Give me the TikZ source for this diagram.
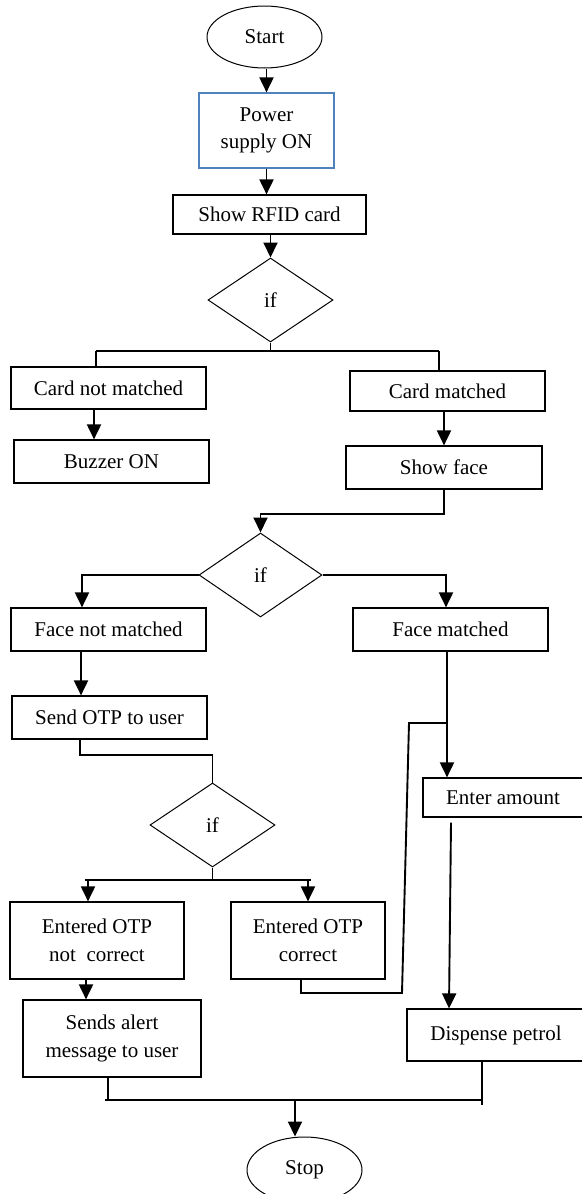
\documentclass[tikz,border=0pt]{standalone}
\usepackage{fontspec}
\setmainfont{Liberation Serif}
\usepackage{tikz}
\usetikzlibrary{shapes.geometric, arrows.meta}
\definecolor{powerblue}{RGB}{79,129,189}
\tikzstyle{startstop} = [ellipse, minimum width=115pt, minimum height=62pt, inner sep=0pt, text centered, draw=black, line width=1pt]
\tikzstyle{process} = [rectangle, minimum height=42pt, inner sep=0pt, align=center, draw=black, line width=1.2pt]
\tikzstyle{decision} = [diamond, minimum width=125pt, minimum height=84pt, inner sep=0pt, text centered, draw=black, line width=1pt]
\tikzstyle{arrow} = [line width=1.9pt, -{Triangle[length=15pt,width=14pt]}]
\tikzstyle{connector} = [line width=1.9pt]

\begin{document}
\begin{tikzpicture}[x=1pt, y=-1pt, font=\fontsize{21}{27.5}\selectfont]
\useasboundingbox (0,0) rectangle (581,1194);

% Diagram nodes
\node (start) [startstop] at (264.5,37) {Start};
\node (power) [process, draw=powerblue, minimum width=135pt, minimum height=75pt] at (266.5,130.5) {Power\\supply ON};
\node (rfid) [process, minimum width=193pt, minimum height=39pt] at (269.5,214.5) {Show RFID card};
\node (if1) [decision] at (270.5,300) {if};
\node (cardno) [process, minimum width=195pt] at (108.5,388) {Card not matched};
\node (cardyes) [process, minimum width=195pt, minimum height=40pt] at (447.5,391) {Card matched};
\node (buzzer) [process, minimum width=195pt, minimum height=43pt] at (111.5,461.5) {Buzzer ON};
\node (face) [process, minimum width=196pt, minimum height=43pt] at (444,467.5) {Show face};
\node (if2) [decision, minimum width=123pt] at (260.5,575) {if};
\node (faceno) [process, minimum width=195pt, minimum height=43pt] at (108.5,629.5) {Face not matched};
\node (faceyes) [process, minimum width=195pt, minimum height=43pt] at (450.5,629.5) {Face matched};
\node (otp) [process, minimum width=195pt, minimum height=43pt] at (109.5,717.5) {Send OTP to user};
\node (if3) [decision] at (212.5,825) {if};
\node (otpno) [process, minimum width=174pt, minimum height=77pt] at (97,940.5) {Entered OTP\\not\ \ correct};
\node (otpyes) [process, minimum width=154pt, minimum height=77pt] at (308,940.5) {Entered OTP\\correct};
\node (alert) [process, minimum width=178pt, minimum height=77pt] at (112,1038.5) {Sends alert\\message to user};
\node (amount) [process, minimum width=160pt, minimum height=39pt] at (503,797.5) {Enter amount};
\node (petrol) [process, minimum width=178pt, minimum height=52pt] at (496,1035) {Dispense petrol};
\node (stop) [startstop, minimum height=66pt] at (304.5,1170) {Stop};

% Bend points
\coordinate (split1l) at (96,351);
\coordinate (split1r) at (439,351);
\coordinate (split3l) at (88,880);
\coordinate (split3r) at (308,880);
\coordinate (loopa) at (402,993);
\coordinate (loopb) at (409,723);
\coordinate (loopc) at (447,723);
\coordinate (joinl) at (108,1100);
\coordinate (joinr) at (482,1100);
\coordinate (joinm) at (295,1100);

% Arrows
\draw [arrow] (start.south -| power.north) -- (power.north);
\draw [arrow] (power.south) -- (power.south |- rfid.north);
\draw [arrow] (rfid.south -| if1.north) -- (if1.north);
\draw [connector] (if1.south) -- (if1.south |- split1l);
\draw [connector] (split1l) -- (split1r);
\draw [connector] (split1l) -- (split1l |- cardno.north);
\draw [connector] (split1r) -- (split1r |- cardyes.north);
\draw [arrow] ([xshift=-14.5pt]cardno.south) -- ([xshift=-14.5pt]cardno.south |- buzzer.north);
\draw [arrow] (cardyes.south -| face.north) -- (face.north);
\draw [arrow] (face.south) -- ++(0,24) -| (if2.north);
\draw [arrow] (if2.west) -| ([xshift=-26.5pt]faceno.north);
\draw [arrow] (if2.east) -| ([xshift=-4.5pt]faceyes.north);
\draw [arrow] ([xshift=-27.5pt]faceno.south) -- ([xshift=-27.5pt]faceno.south |- otp.north);
\draw [connector] ([xshift=-29.5pt]otp.south) -- ++(0,15) -| (if3.north);
\draw [connector] (if3.south) -- (if3.south |- split3l);
\draw [connector] ([xshift=-3pt]split3l) -- ([xshift=3pt]split3r);
\draw [arrow] (split3l) -- (split3l |- otpno.north);
\draw [arrow] (split3r) -- (split3r |- otpyes.north);
\draw [arrow] ([xshift=-11pt]otpno.south) -- ([xshift=-11pt]otpno.south |- alert.north);
\draw [connector] ([xshift=-7pt]otpyes.south) |- (loopa) -- (loopb) -- (loopc);
\draw [arrow] ([xshift=-3.5pt]faceyes.south) -- ([xshift=-3.5pt]faceyes.south |- amount.north);
\draw [arrow] ([xshift=-52pt,yshift=-5pt]amount.south) -- ([xshift=-47pt]petrol.north);
\draw [connector] (alert.south -| joinl) -- (joinl);
\draw [connector] ([xshift=-3pt]joinl) -- (joinr);
\draw [connector] (petrol.south -| joinr) -- ([yshift=-5pt]joinr);
\draw [arrow] (joinm) -- (joinm |- stop.north);

\end{tikzpicture}
\end{document}
